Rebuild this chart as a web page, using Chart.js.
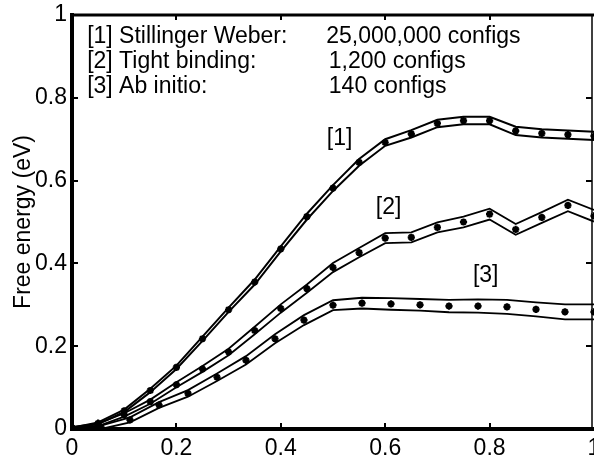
<!DOCTYPE html>
<html>
<head>
<meta charset="utf-8">
<script src="https://cdn.jsdelivr.net/npm/chart.js@4/dist/chart.umd.min.js"></script>
<style>
  html, body { margin: 0; padding: 0; background: #fff; overflow: hidden; }
  #c { display: block; }
</style>
</head>
<body>
<canvas id="c" width="594" height="457"></canvas>
<script>
// ---- data ----
const xSW = [0, 0.05, 0.1, 0.15, 0.2, 0.25, 0.3, 0.35, 0.4, 0.45, 0.5, 0.55, 0.6, 0.65, 0.7, 0.75, 0.8, 0.85, 0.9, 0.95, 1.0];
const swCenter = [0.002, 0.014, 0.044, 0.093, 0.149, 0.218, 0.288, 0.355, 0.435, 0.513, 0.582, 0.644, 0.692, 0.713, 0.738, 0.745, 0.745, 0.720, 0.714, 0.711, 0.708];
const swErr = [0.001, 0.002, 0.003, 0.004, 0.004, 0.005, 0.005, 0.006, 0.006, 0.007, 0.007, 0.008, 0.008, 0.009, 0.009, 0.009, 0.009, 0.010, 0.010, 0.010, 0.010];

const xTB = [0, 0.05, 0.1, 0.15, 0.2, 0.25, 0.3, 0.35, 0.4, 0.45, 0.5, 0.55, 0.6, 0.65, 0.7, 0.75, 0.8, 0.85, 0.9, 0.95, 1.0];
const tbCenter = [0.003, 0.010, 0.034, 0.066, 0.107, 0.145, 0.186, 0.238, 0.291, 0.339, 0.390, 0.426, 0.461, 0.463, 0.487, 0.500, 0.519, 0.482, 0.511, 0.540, 0.515];
const tbErr = [0.002, 0.003, 0.004, 0.005, 0.006, 0.007, 0.008, 0.009, 0.010, 0.010, 0.011, 0.011, 0.012, 0.012, 0.012, 0.013, 0.013, 0.013, 0.013, 0.014, 0.014];

const xAI = [0, 0.0556, 0.1111, 0.1667, 0.2222, 0.2778, 0.3333, 0.3889, 0.4444, 0.5, 0.5556, 0.6111, 0.6667, 0.7222, 0.7778, 0.8333, 0.8889, 0.9444, 1.0];
const aiCenter = [0.002, 0.004, 0.022, 0.058, 0.086, 0.125, 0.166, 0.218, 0.263, 0.299, 0.304, 0.302, 0.300, 0.297, 0.297, 0.295, 0.289, 0.283, 0.283];
const aiErr = [0.002, 0.004, 0.006, 0.007, 0.008, 0.009, 0.010, 0.011, 0.012, 0.012, 0.013, 0.014, 0.014, 0.015, 0.016, 0.017, 0.017, 0.018, 0.018];

const xTicks = [0, 0.2, 0.4, 0.6, 0.8, 1];
const yTicks = [0, 0.2, 0.4, 0.6, 0.8, 1];
const tickText = ['0', '0.2', '0.4', '0.6', '0.8', '1'];

const legendNames = ['[1] Stillinger Weber:', '[2] Tight binding:', '[3] Ab initio:'];
const legendCounts = ['25,000,000 configs', '1,200 configs', '140 configs'];
const curveLabels = ['[1]', '[2]', '[3]'];
const axisTitleY = 'Free energy (eV)';

// ---- build datasets ----
const FONT = '"Liberation Sans", Arial, Helvetica, sans-serif';
function pts(xs, ys) { return xs.map((x, i) => ({ x: x, y: ys[i] })); }
function band(xs, c, e, sign) { return xs.map((x, i) => ({ x: x, y: c[i] + sign * e[i] })); }

const series = [
  { xs: xSW, c: swCenter, e: swErr, lw: 2 },
  { xs: xTB, c: tbCenter, e: tbErr, lw: 1.8 },
  { xs: xAI, c: aiCenter, e: aiErr, lw: 1.8 }
];
const datasets = [];
series.forEach(s => {
  [1, -1].forEach(sign => {
    datasets.push({
      data: band(s.xs, s.c, s.e, sign),
      borderColor: '#000', backgroundColor: '#000',
      borderWidth: s.lw, pointRadius: 0, showLine: true, tension: 0, fill: false
    });
  });
  datasets.push({
    data: pts(s.xs, s.c),
    showLine: false, pointStyle: 'star', pointRadius: 3.6,
    pointBorderWidth: 2.2, pointBorderColor: '#000', pointBackgroundColor: '#000'
  });
});

// ---- plugin: frame, inward ticks, text annotations ----
const decor = {
  id: 'decor',
  afterDraw(chart) {
    const ctx = chart.ctx;
    const xs = chart.scales.x, ys = chart.scales.y;
    const a = chart.chartArea;
    ctx.save();
    ctx.strokeStyle = '#000';
    // top and right frame
    ctx.lineWidth = 3;
    ctx.beginPath(); ctx.moveTo(a.left, a.top); ctx.lineTo(a.right, a.top); ctx.stroke();
    ctx.lineWidth = 1.5;
    ctx.beginPath(); ctx.moveTo(a.right - 2, a.top); ctx.lineTo(a.right - 2, a.bottom); ctx.stroke();
    // inward tick marks
    ctx.lineWidth = 2;
    const L = 4;
    xTicks.forEach(v => {
      if (v <= 0 || v >= 1) return;
      const px = Math.round(xs.getPixelForValue(v));
      ctx.beginPath(); ctx.moveTo(px, a.bottom); ctx.lineTo(px, a.bottom - L - 2); ctx.stroke();
      ctx.beginPath(); ctx.moveTo(px, a.top); ctx.lineTo(px, a.top + L + 1); ctx.stroke();
    });
    yTicks.forEach(v => {
      if (v <= 0 || v >= 1) return;
      const py = Math.round(ys.getPixelForValue(v));
      ctx.beginPath(); ctx.moveTo(a.left, py); ctx.lineTo(a.left + L + 2, py); ctx.stroke();
      ctx.beginPath(); ctx.moveTo(a.right - 2, py); ctx.lineTo(a.right - L - 4, py); ctx.stroke();
    });
    // texts
    ctx.fillStyle = '#000';
    ctx.font = '23px ' + FONT;
    ctx.textAlign = 'left';
    ctx.textBaseline = 'alphabetic';
    const legY = [0.932, 0.871, 0.811];
    const colX = [0.487, 0.492, 0.492];
    legendNames.forEach((t, i) => {
      ctx.fillText(t, xs.getPixelForValue(0.029), ys.getPixelForValue(legY[i]));
    });
    legendCounts.forEach((t, i) => {
      ctx.fillText(t, xs.getPixelForValue(colX[i]), ys.getPixelForValue(legY[i]));
    });
    const labPos = [[0.488, 0.685], [0.582, 0.519], [0.768, 0.354]];
    curveLabels.forEach((t, i) => {
      ctx.fillText(t, xs.getPixelForValue(labPos[i][0]), ys.getPixelForValue(labPos[i][1]));
    });
    ctx.restore();
  }
};

function fmt(v) { const i = xTicks.indexOf(v); return i >= 0 ? tickText[i] : String(v); }

new Chart(document.getElementById('c'), {
  type: 'scatter',
  data: { datasets: datasets },
  plugins: [decor],
  options: {
    responsive: false,
    animation: false,
    events: [],
    layout: { autoPadding: false, padding: { top: 15, right: 0, left: 0, bottom: 0 } },
    plugins: { legend: { display: false }, tooltip: { enabled: false } },
    scales: {
      x: {
        type: 'linear', min: 0, max: 1,
        afterFit(s) { s.height = 28; s.paddingLeft = 0; s.paddingRight = 0; },
        afterBuildTicks(s) { s.ticks = xTicks.map(v => ({ value: v })); },
        ticks: { color: '#000', font: { family: FONT, size: 23 }, padding: 6, maxRotation: 0, callback: v => fmt(v) },
        grid: { display: false, drawTicks: false },
        border: { display: true, color: '#000', width: 4 }
      },
      y: {
        type: 'linear', min: 0, max: 1,
        afterFit(s) { s.width = 72; s.paddingTop = 0; s.paddingBottom = 0; },
        afterBuildTicks(s) { s.ticks = yTicks.map(v => ({ value: v })); },
        ticks: { color: '#000', font: { family: FONT, size: 23 }, padding: 5, callback: v => fmt(v) },
        grid: { display: false, drawTicks: false },
        border: { display: true, color: '#000', width: 4 },
        title: { display: true, text: axisTitleY, color: '#000', font: { family: FONT, size: 23 }, padding: { top: 10, bottom: 0 } }
      }
    }
  }
});
</script>
</body>
</html>
